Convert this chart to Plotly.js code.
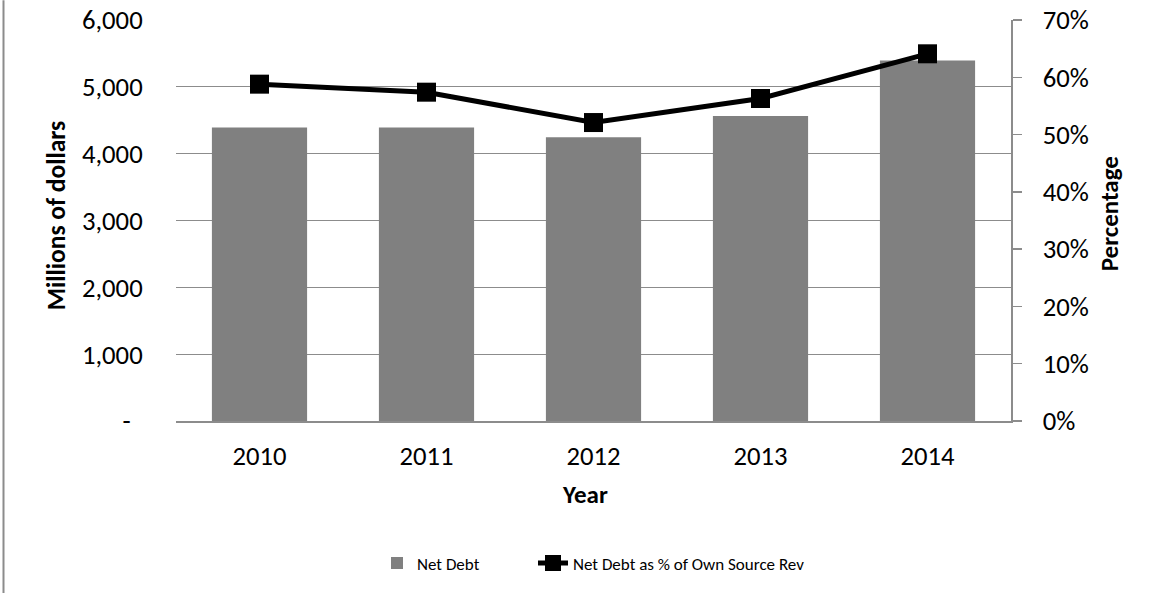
<!DOCTYPE html>
<html>
<head>
<meta charset="utf-8">
<script src="https://cdn.plot.ly/plotly-3.0.1.min.js"></script>
<style>
  html, body { margin: 0; padding: 0; background: #fff; }
  #chart { width: 1151px; height: 593px; }
</style>
</head>
<body>
<div id="chart"></div>
<script>
// ---- data ----
const years = ["2010", "2011", "2012", "2013", "2014"];
const netDebt = [4390, 4390, 4245, 4565, 5395];           // millions of dollars
const netDebtPct = [0.588, 0.574, 0.521, 0.563, 0.641];   // share of own source revenue
const leftTickVals = [0, 1000, 2000, 3000, 4000, 5000, 6000];
const leftTickText = ["-\u00a0\u00a0", "1,000", "2,000", "3,000", "4,000", "5,000", "6,000"];
const rightTickVals = [0, 0.1, 0.2, 0.3, 0.4, 0.5, 0.6, 0.7];
const rightTickText = ["0%", "10%", "20%", "30%", "40%", "50%", "60%", "70%"];

const FONT = "Carlito, 'Open Sans', sans-serif";
const GRID = "#8c8c8c";
const TICK = 26.67;

const traces = [
  {
    type: "bar",
    name: "Net Debt",
    x: years,
    y: netDebt,
    marker: { color: "#808080" },
    yaxis: "y",
    legend: "legend"
  },
  {
    type: "scatter",
    mode: "lines+markers",
    name: "Net Debt as % of Own Source Rev",
    x: years,
    y: netDebtPct,
    yaxis: "y2",
    legend: "legend2",
    line: { color: "#000000", width: 5 },
    marker: { symbol: "square", size: 19, color: "#000000" }
  }
];

const L = 176, R = 1011, T = 19.7, B = 420.6;
const px2x = p => (p - L) / (R - L);
const px2y = p => (B - p) / (B - T);

const legendBase = {
  orientation: "h",
  yanchor: "middle",
  y: px2y(563),
  xanchor: "left",
  font: { family: FONT, size: 17, color: "#000" },
  bgcolor: "rgba(0,0,0,0)",
  borderwidth: 0
};

const layout = {
  width: 1151,
  height: 593,
  margin: { l: L, r: 1151 - R, t: T, b: 593 - B, pad: 0 },
  paper_bgcolor: "#ffffff",
  plot_bgcolor: "#ffffff",
  font: { family: FONT, color: "#000000", size: TICK },
  bargap: 0.43,
  showlegend: true,
  legend: Object.assign({}, legendBase, { x: px2x(417 - 40) }),
  legend2: Object.assign({}, legendBase, { x: px2x(573 - 40) }),
  xaxis: {
    type: "category",
    showgrid: false,
    showline: true,
    linecolor: GRID,
    linewidth: 1.5,
    ticks: "outside",
    ticklen: 10,
    tickcolor: "rgba(0,0,0,0)",
    tickfont: { family: FONT, size: TICK },
    zeroline: false,
    fixedrange: true
  },
  yaxis: {
    range: [0, 6000],
    tickvals: leftTickVals,
    ticktext: leftTickText,
    showgrid: true,
    gridcolor: GRID,
    gridwidth: 1.3,
    showline: false,
    zeroline: false,
    ticks: "outside",
    ticklen: 27,
    tickcolor: "rgba(0,0,0,0)",
    tickfont: { family: FONT, size: TICK },
    fixedrange: true
  },
  yaxis2: {
    overlaying: "y",
    side: "right",
    range: [0, 0.7],
    tickvals: rightTickVals,
    ticktext: rightTickText,
    showgrid: false,
    showline: true,
    linecolor: GRID,
    linewidth: 1.5,
    zeroline: false,
    ticks: "outside",
    ticklen: 9,
    tickwidth: 1.5,
    tickcolor: GRID,
    ticklabelstandoff: 16,
    tickfont: { family: FONT, size: TICK },
    fixedrange: true
  },
  annotations: [
    {
      text: "<b>Millions of dollars</b>",
      xref: "paper", yref: "paper",
      x: px2x(56), y: px2y(215),
      xanchor: "center", yanchor: "middle",
      textangle: -90, showarrow: false,
      font: { family: FONT, size: 25.5, color: "#000" }
    },
    {
      text: "<b>Percentage</b>",
      xref: "paper", yref: "paper",
      x: px2x(1109), y: px2y(214),
      xanchor: "center", yanchor: "middle",
      textangle: -90, showarrow: false,
      font: { family: FONT, size: 25, color: "#000" }
    },
    {
      text: "<b>Year</b>",
      xref: "paper", yref: "paper",
      x: px2x(585), y: px2y(494),
      xanchor: "center", yanchor: "middle",
      showarrow: false,
      font: { family: FONT, size: 25, color: "#000" }
    }
  ],
  shapes: [
    {
      type: "line", xref: "paper", yref: "paper",
      x0: px2x(3.5), x1: px2x(3.5), y0: px2y(0), y1: px2y(593),
      line: { color: GRID, width: 2 }
    }
  ]
};

Plotly.newPlot("chart", traces, layout, { displayModeBar: false, staticPlot: true });
</script>
</body>
</html>
